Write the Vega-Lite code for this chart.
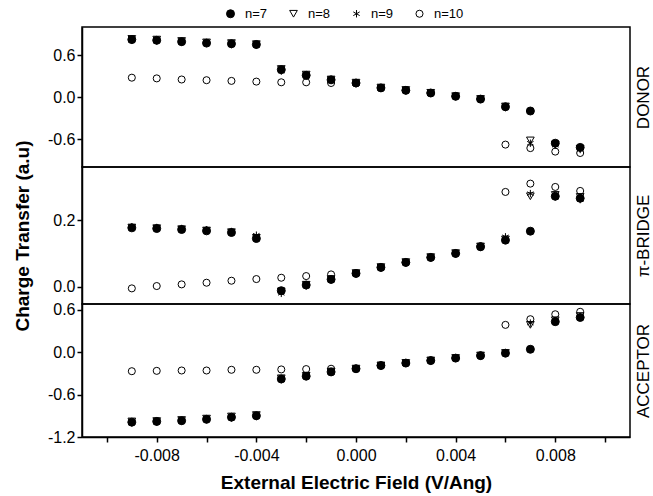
{
"$schema": "https://vega.github.io/schema/vega-lite/v6.json",
"padding": {"left": 13, "top": 7, "right": 0, "bottom": 0},
"bounds": "flush",
"spacing": 0,
"datasets": {"ct": [
{"p":"D","n":"n=7","x":-0.009,"v":0.82},{"p":"D","n":"n=7","x":-0.008,"v":0.81},{"p":"D","n":"n=7","x":-0.007,"v":0.79},{"p":"D","n":"n=7","x":-0.006,"v":0.77},{"p":"D","n":"n=7","x":-0.005,"v":0.76},{"p":"D","n":"n=7","x":-0.004,"v":0.75},{"p":"D","n":"n=7","x":-0.003,"v":0.39},{"p":"D","n":"n=7","x":-0.002,"v":0.31},{"p":"D","n":"n=7","x":-0.001,"v":0.245},{"p":"D","n":"n=7","x":0,"v":0.2},{"p":"D","n":"n=7","x":0.001,"v":0.13},{"p":"D","n":"n=7","x":0.002,"v":0.095},{"p":"D","n":"n=7","x":0.003,"v":0.057},{"p":"D","n":"n=7","x":0.004,"v":0.01},{"p":"D","n":"n=7","x":0.005,"v":-0.03},{"p":"D","n":"n=7","x":0.006,"v":-0.14},{"p":"D","n":"n=7","x":0.007,"v":-0.2},{"p":"D","n":"n=7","x":0.008,"v":-0.66},{"p":"D","n":"n=7","x":0.009,"v":-0.72},
{"p":"D","n":"n=8","x":-0.009,"v":0.83},{"p":"D","n":"n=8","x":-0.008,"v":0.82},{"p":"D","n":"n=8","x":-0.007,"v":0.8},{"p":"D","n":"n=8","x":-0.006,"v":0.78},{"p":"D","n":"n=8","x":-0.005,"v":0.77},{"p":"D","n":"n=8","x":-0.004,"v":0.755},{"p":"D","n":"n=8","x":-0.003,"v":0.4},{"p":"D","n":"n=8","x":-0.002,"v":0.32},{"p":"D","n":"n=8","x":-0.001,"v":0.25},{"p":"D","n":"n=8","x":0,"v":0.205},{"p":"D","n":"n=8","x":0.001,"v":0.135},{"p":"D","n":"n=8","x":0.002,"v":0.1},{"p":"D","n":"n=8","x":0.003,"v":0.06},{"p":"D","n":"n=8","x":0.004,"v":0.012},{"p":"D","n":"n=8","x":0.005,"v":-0.028},{"p":"D","n":"n=8","x":0.006,"v":-0.135},{"p":"D","n":"n=8","x":0.007,"v":-0.62},{"p":"D","n":"n=8","x":0.008,"v":-0.68},{"p":"D","n":"n=8","x":0.009,"v":-0.74},
{"p":"D","n":"n=9","x":-0.009,"v":0.81},{"p":"D","n":"n=9","x":-0.008,"v":0.8},{"p":"D","n":"n=9","x":-0.007,"v":0.785},{"p":"D","n":"n=9","x":-0.006,"v":0.765},{"p":"D","n":"n=9","x":-0.005,"v":0.75},{"p":"D","n":"n=9","x":-0.004,"v":0.74},{"p":"D","n":"n=9","x":-0.003,"v":0.37},{"p":"D","n":"n=9","x":-0.002,"v":0.3},{"p":"D","n":"n=9","x":-0.001,"v":0.24},{"p":"D","n":"n=9","x":0,"v":0.195},{"p":"D","n":"n=9","x":0.001,"v":0.128},{"p":"D","n":"n=9","x":0.002,"v":0.092},{"p":"D","n":"n=9","x":0.003,"v":0.055},{"p":"D","n":"n=9","x":0.004,"v":0.008},{"p":"D","n":"n=9","x":0.005,"v":-0.032},{"p":"D","n":"n=9","x":0.006,"v":-0.15},{"p":"D","n":"n=9","x":0.007,"v":-0.66},{"p":"D","n":"n=9","x":0.008,"v":-0.69},{"p":"D","n":"n=9","x":0.009,"v":-0.75},
{"p":"D","n":"n=10","x":-0.009,"v":0.276},{"p":"D","n":"n=10","x":-0.008,"v":0.266},{"p":"D","n":"n=10","x":-0.007,"v":0.25},{"p":"D","n":"n=10","x":-0.006,"v":0.24},{"p":"D","n":"n=10","x":-0.005,"v":0.23},{"p":"D","n":"n=10","x":-0.004,"v":0.22},{"p":"D","n":"n=10","x":-0.003,"v":0.21},{"p":"D","n":"n=10","x":-0.002,"v":0.21},{"p":"D","n":"n=10","x":-0.001,"v":0.2},{"p":"D","n":"n=10","x":0,"v":0.195},{"p":"D","n":"n=10","x":0.001,"v":0.13},{"p":"D","n":"n=10","x":0.002,"v":0.095},{"p":"D","n":"n=10","x":0.003,"v":0.057},{"p":"D","n":"n=10","x":0.004,"v":0.01},{"p":"D","n":"n=10","x":0.005,"v":-0.03},{"p":"D","n":"n=10","x":0.006,"v":-0.68},{"p":"D","n":"n=10","x":0.007,"v":-0.73},{"p":"D","n":"n=10","x":0.008,"v":-0.78},{"p":"D","n":"n=10","x":0.009,"v":-0.8},
{"p":"B","n":"n=7","x":-0.009,"v":0.177},{"p":"B","n":"n=7","x":-0.008,"v":0.175},{"p":"B","n":"n=7","x":-0.007,"v":0.172},{"p":"B","n":"n=7","x":-0.006,"v":0.168},{"p":"B","n":"n=7","x":-0.005,"v":0.163},{"p":"B","n":"n=7","x":-0.004,"v":0.145},{"p":"B","n":"n=7","x":-0.003,"v":-0.012},{"p":"B","n":"n=7","x":-0.002,"v":0.005},{"p":"B","n":"n=7","x":-0.001,"v":0.022},{"p":"B","n":"n=7","x":0,"v":0.04},{"p":"B","n":"n=7","x":0.001,"v":0.058},{"p":"B","n":"n=7","x":0.002,"v":0.073},{"p":"B","n":"n=7","x":0.003,"v":0.088},{"p":"B","n":"n=7","x":0.004,"v":0.1},{"p":"B","n":"n=7","x":0.005,"v":0.12},{"p":"B","n":"n=7","x":0.006,"v":0.14},{"p":"B","n":"n=7","x":0.007,"v":0.167},{"p":"B","n":"n=7","x":0.008,"v":0.272},{"p":"B","n":"n=7","x":0.009,"v":0.266},
{"p":"B","n":"n=8","x":-0.009,"v":0.178},{"p":"B","n":"n=8","x":-0.008,"v":0.176},{"p":"B","n":"n=8","x":-0.007,"v":0.173},{"p":"B","n":"n=8","x":-0.006,"v":0.169},{"p":"B","n":"n=8","x":-0.005,"v":0.164},{"p":"B","n":"n=8","x":-0.004,"v":0.147},{"p":"B","n":"n=8","x":-0.003,"v":-0.014},{"p":"B","n":"n=8","x":-0.002,"v":0.006},{"p":"B","n":"n=8","x":-0.001,"v":0.023},{"p":"B","n":"n=8","x":0,"v":0.041},{"p":"B","n":"n=8","x":0.001,"v":0.059},{"p":"B","n":"n=8","x":0.002,"v":0.074},{"p":"B","n":"n=8","x":0.003,"v":0.089},{"p":"B","n":"n=8","x":0.004,"v":0.101},{"p":"B","n":"n=8","x":0.005,"v":0.121},{"p":"B","n":"n=8","x":0.006,"v":0.142},{"p":"B","n":"n=8","x":0.007,"v":0.272},{"p":"B","n":"n=8","x":0.008,"v":0.276},{"p":"B","n":"n=8","x":0.009,"v":0.27},
{"p":"B","n":"n=9","x":-0.009,"v":0.18},{"p":"B","n":"n=9","x":-0.008,"v":0.178},{"p":"B","n":"n=9","x":-0.007,"v":0.175},{"p":"B","n":"n=9","x":-0.006,"v":0.171},{"p":"B","n":"n=9","x":-0.005,"v":0.166},{"p":"B","n":"n=9","x":-0.004,"v":0.155},{"p":"B","n":"n=9","x":-0.003,"v":-0.02},{"p":"B","n":"n=9","x":-0.002,"v":0.002},{"p":"B","n":"n=9","x":-0.001,"v":0.02},{"p":"B","n":"n=9","x":0,"v":0.039},{"p":"B","n":"n=9","x":0.001,"v":0.057},{"p":"B","n":"n=9","x":0.002,"v":0.072},{"p":"B","n":"n=9","x":0.003,"v":0.087},{"p":"B","n":"n=9","x":0.004,"v":0.099},{"p":"B","n":"n=9","x":0.005,"v":0.119},{"p":"B","n":"n=9","x":0.006,"v":0.15},{"p":"B","n":"n=9","x":0.007,"v":0.28},{"p":"B","n":"n=9","x":0.008,"v":0.27},{"p":"B","n":"n=9","x":0.009,"v":0.262},
{"p":"B","n":"n=10","x":-0.009,"v":-0.005},{"p":"B","n":"n=10","x":-0.008,"v":0.002},{"p":"B","n":"n=10","x":-0.007,"v":0.007},{"p":"B","n":"n=10","x":-0.006,"v":0.012},{"p":"B","n":"n=10","x":-0.005,"v":0.018},{"p":"B","n":"n=10","x":-0.004,"v":0.023},{"p":"B","n":"n=10","x":-0.003,"v":0.027},{"p":"B","n":"n=10","x":-0.002,"v":0.032},{"p":"B","n":"n=10","x":-0.001,"v":0.037},{"p":"B","n":"n=10","x":0,"v":0.04},{"p":"B","n":"n=10","x":0.001,"v":0.058},{"p":"B","n":"n=10","x":0.002,"v":0.073},{"p":"B","n":"n=10","x":0.003,"v":0.088},{"p":"B","n":"n=10","x":0.004,"v":0.1},{"p":"B","n":"n=10","x":0.005,"v":0.122},{"p":"B","n":"n=10","x":0.006,"v":0.285},{"p":"B","n":"n=10","x":0.007,"v":0.31},{"p":"B","n":"n=10","x":0.008,"v":0.3},{"p":"B","n":"n=10","x":0.009,"v":0.288},
{"p":"A","n":"n=7","x":-0.009,"v":-0.99},{"p":"A","n":"n=7","x":-0.008,"v":-0.98},{"p":"A","n":"n=7","x":-0.007,"v":-0.97},{"p":"A","n":"n=7","x":-0.006,"v":-0.95},{"p":"A","n":"n=7","x":-0.005,"v":-0.92},{"p":"A","n":"n=7","x":-0.004,"v":-0.9},{"p":"A","n":"n=7","x":-0.003,"v":-0.38},{"p":"A","n":"n=7","x":-0.002,"v":-0.34},{"p":"A","n":"n=7","x":-0.001,"v":-0.28},{"p":"A","n":"n=7","x":0,"v":-0.235},{"p":"A","n":"n=7","x":0.001,"v":-0.19},{"p":"A","n":"n=7","x":0.002,"v":-0.155},{"p":"A","n":"n=7","x":0.003,"v":-0.12},{"p":"A","n":"n=7","x":0.004,"v":-0.085},{"p":"A","n":"n=7","x":0.005,"v":-0.05},{"p":"A","n":"n=7","x":0.006,"v":-0.015},{"p":"A","n":"n=7","x":0.007,"v":0.04},{"p":"A","n":"n=7","x":0.008,"v":0.43},{"p":"A","n":"n=7","x":0.009,"v":0.49},
{"p":"A","n":"n=8","x":-0.009,"v":-0.98},{"p":"A","n":"n=8","x":-0.008,"v":-0.975},{"p":"A","n":"n=8","x":-0.007,"v":-0.96},{"p":"A","n":"n=8","x":-0.006,"v":-0.94},{"p":"A","n":"n=8","x":-0.005,"v":-0.91},{"p":"A","n":"n=8","x":-0.004,"v":-0.89},{"p":"A","n":"n=8","x":-0.003,"v":-0.37},{"p":"A","n":"n=8","x":-0.002,"v":-0.335},{"p":"A","n":"n=8","x":-0.001,"v":-0.275},{"p":"A","n":"n=8","x":0,"v":-0.233},{"p":"A","n":"n=8","x":0.001,"v":-0.188},{"p":"A","n":"n=8","x":0.002,"v":-0.153},{"p":"A","n":"n=8","x":0.003,"v":-0.118},{"p":"A","n":"n=8","x":0.004,"v":-0.083},{"p":"A","n":"n=8","x":0.005,"v":-0.048},{"p":"A","n":"n=8","x":0.006,"v":-0.012},{"p":"A","n":"n=8","x":0.007,"v":0.385},{"p":"A","n":"n=8","x":0.008,"v":0.45},{"p":"A","n":"n=8","x":0.009,"v":0.51},
{"p":"A","n":"n=9","x":-0.009,"v":-1.0},{"p":"A","n":"n=9","x":-0.008,"v":-0.99},{"p":"A","n":"n=9","x":-0.007,"v":-0.975},{"p":"A","n":"n=9","x":-0.006,"v":-0.955},{"p":"A","n":"n=9","x":-0.005,"v":-0.93},{"p":"A","n":"n=9","x":-0.004,"v":-0.91},{"p":"A","n":"n=9","x":-0.003,"v":-0.39},{"p":"A","n":"n=9","x":-0.002,"v":-0.345},{"p":"A","n":"n=9","x":-0.001,"v":-0.285},{"p":"A","n":"n=9","x":0,"v":-0.237},{"p":"A","n":"n=9","x":0.001,"v":-0.192},{"p":"A","n":"n=9","x":0.002,"v":-0.157},{"p":"A","n":"n=9","x":0.003,"v":-0.122},{"p":"A","n":"n=9","x":0.004,"v":-0.087},{"p":"A","n":"n=9","x":0.005,"v":-0.052},{"p":"A","n":"n=9","x":0.006,"v":-0.018},{"p":"A","n":"n=9","x":0.007,"v":0.41},{"p":"A","n":"n=9","x":0.008,"v":0.44},{"p":"A","n":"n=9","x":0.009,"v":0.5},
{"p":"A","n":"n=10","x":-0.009,"v":-0.27},{"p":"A","n":"n=10","x":-0.008,"v":-0.265},{"p":"A","n":"n=10","x":-0.007,"v":-0.26},{"p":"A","n":"n=10","x":-0.006,"v":-0.26},{"p":"A","n":"n=10","x":-0.005,"v":-0.25},{"p":"A","n":"n=10","x":-0.004,"v":-0.25},{"p":"A","n":"n=10","x":-0.003,"v":-0.245},{"p":"A","n":"n=10","x":-0.002,"v":-0.24},{"p":"A","n":"n=10","x":-0.001,"v":-0.235},{"p":"A","n":"n=10","x":0,"v":-0.235},{"p":"A","n":"n=10","x":0.001,"v":-0.19},{"p":"A","n":"n=10","x":0.002,"v":-0.155},{"p":"A","n":"n=10","x":0.003,"v":-0.12},{"p":"A","n":"n=10","x":0.004,"v":-0.085},{"p":"A","n":"n=10","x":0.005,"v":-0.048},{"p":"A","n":"n=10","x":0.006,"v":0.385},{"p":"A","n":"n=10","x":0.007,"v":0.465},{"p":"A","n":"n=10","x":0.008,"v":0.535},{"p":"A","n":"n=10","x":0.009,"v":0.57}
]},
"data": {"name": "ct"},
"config": {
  "font": "Liberation Sans",
  "view": {"stroke": "black", "strokeWidth": 1.5},
  "axis": {"grid": false, "domainColor": "black", "domainWidth": 1.5, "tickColor": "black", "tickWidth": 1.5, "tickSize": 5, "labelColor": "black", "labelFontSize": 16, "labelFont": "Liberation Sans", "titleColor": "black", "titleFont": "Liberation Sans"},
  "legend": {"labelFont": "Liberation Sans", "labelFontSize": 13, "labelColor": "black"},
  "locale": {"number": {"decimal": ".", "thousands": ",", "grouping": [3], "currency": ["$", ""], "minus": "-"}}
},
"vconcat": [
 {
  "width": 548, "height": 140,
  "transform": [{"filter": "datum.p == 'D'"}],
  "encoding": {"x": {"field": "x", "type": "quantitative", "scale": {"domain": [-0.011, 0.011], "nice": false, "zero": false}, "axis": null}},
  "layer": [
   {"mark": {"type": "point", "filled": true, "stroke": "black", "strokeWidth": 1, "strokeOpacity": 1, "opacity": 1},
    "encoding": {
     "y": {"field": "v", "type": "quantitative", "scale": {"domain": [-1.0, 1.0], "nice": false, "zero": false}, "axis": {"values": [-0.6, 0, 0.6], "format": ".1f", "title": null, "labelPadding": 2}},
     "shape": {"field": "n", "type": "nominal", "scale": {"domain": ["n=7", "n=8", "n=9", "n=10"], "range": ["circle", "triangle-down", "M0,-1L0,1M-0.866,-0.5L0.866,0.5M-0.866,0.5L0.866,-0.5", "circle"]}, "legend": {"title": null, "orient": "none", "direction": "horizontal", "legendX": 142, "legendY": -20, "padding": 0, "labelOffset": 8, "columnPadding": 19, "symbolStrokeColor": "black", "symbolStrokeWidth": 1}},
     "fill": {"field": "n", "type": "nominal", "scale": {"domain": ["n=7", "n=8", "n=9", "n=10"], "range": ["black", "transparent", "transparent", "transparent"]}},
     "size": {"field": "n", "type": "nominal", "scale": {"domain": ["n=7", "n=8", "n=9", "n=10"], "range": [64, 50, 80, 64]}}
    }},
   {"mark": {"type": "point", "opacity": 0},
    "encoding": {"y": {"field": "v", "type": "quantitative", "axis": {"orient": "right", "title": "DONOR", "labels": false, "ticks": false, "domain": false, "titleAngle": 270, "titleBaseline": "top", "titlePadding": 5, "titleFontSize": 17, "titleFontWeight": "normal"}}}}
  ],
  "resolve": {"axis": {"y": "independent"}}
 },
 {
  "width": 548, "height": 137,
  "transform": [{"filter": "datum.p == 'B'"}],
  "encoding": {"x": {"field": "x", "type": "quantitative", "scale": {"domain": [-0.011, 0.011], "nice": false, "zero": false}, "axis": null}},
  "layer": [
   {"mark": {"type": "point", "filled": true, "stroke": "black", "strokeWidth": 1, "strokeOpacity": 1, "opacity": 1},
    "encoding": {
     "y": {"field": "v", "type": "quantitative", "scale": {"domain": [-0.052, 0.36], "nice": false, "zero": false}, "axis": {"values": [0, 0.2], "format": ".1f", "title": "Charge Transfer (a.u)", "titleFontSize": 19, "titleFontWeight": "bold", "titlePadding": 20, "labelPadding": 2}},
     "shape": {"field": "n", "type": "nominal", "scale": {"domain": ["n=7", "n=8", "n=9", "n=10"], "range": ["circle", "triangle-down", "M0,-1L0,1M-0.866,-0.5L0.866,0.5M-0.866,0.5L0.866,-0.5", "circle"]}},
     "fill": {"field": "n", "type": "nominal", "scale": {"domain": ["n=7", "n=8", "n=9", "n=10"], "range": ["black", "transparent", "transparent", "transparent"]}},
     "size": {"field": "n", "type": "nominal", "scale": {"domain": ["n=7", "n=8", "n=9", "n=10"], "range": [64, 50, 80, 64]}}
    }},
   {"mark": {"type": "point", "opacity": 0},
    "encoding": {"y": {"field": "v", "type": "quantitative", "axis": {"orient": "right", "title": "π-BRIDGE", "labels": false, "ticks": false, "domain": false, "titleAngle": 270, "titleBaseline": "top", "titlePadding": 5, "titleFontSize": 17, "titleFontWeight": "normal"}}}}
  ],
  "resolve": {"axis": {"y": "independent"}}
 },
 {
  "width": 548, "height": 133,
  "transform": [{"filter": "datum.p == 'A'"}],
  "encoding": {"x": {"field": "x", "type": "quantitative", "scale": {"domain": [-0.011, 0.011], "nice": false, "zero": false}, "axis": {"values": [-0.01, -0.008, -0.006, -0.004, -0.002, 0, 0.002, 0.004, 0.006, 0.008, 0.01], "labelExpr": "round(datum.value * 1000) % 4 == 0 ? format(datum.value, '.3f') : ''", "title": "External Electric Field (V/Ang)", "titleFontSize": 19, "titleFontWeight": "bold", "labelPadding": 5, "titlePadding": 10, "labelFlush": false, "labelOverlap": false}}},
  "layer": [
   {"mark": {"type": "point", "filled": true, "stroke": "black", "strokeWidth": 1, "strokeOpacity": 1, "opacity": 1},
    "encoding": {
     "y": {"field": "v", "type": "quantitative", "scale": {"domain": [-1.2, 0.68], "nice": false, "zero": false}, "axis": {"values": [-1.2, -0.6, 0, 0.6], "format": ".1f", "title": null, "labelPadding": 2}},
     "shape": {"field": "n", "type": "nominal", "scale": {"domain": ["n=7", "n=8", "n=9", "n=10"], "range": ["circle", "triangle-down", "M0,-1L0,1M-0.866,-0.5L0.866,0.5M-0.866,0.5L0.866,-0.5", "circle"]}},
     "fill": {"field": "n", "type": "nominal", "scale": {"domain": ["n=7", "n=8", "n=9", "n=10"], "range": ["black", "transparent", "transparent", "transparent"]}},
     "size": {"field": "n", "type": "nominal", "scale": {"domain": ["n=7", "n=8", "n=9", "n=10"], "range": [64, 50, 80, 64]}}
    }},
   {"mark": {"type": "point", "opacity": 0},
    "encoding": {"y": {"field": "v", "type": "quantitative", "axis": {"orient": "right", "title": "ACCEPTOR", "labels": false, "ticks": false, "domain": false, "titleAngle": 270, "titleBaseline": "top", "titlePadding": 5, "titleFontSize": 17, "titleFontWeight": "normal"}}}}
  ],
  "resolve": {"axis": {"y": "independent"}}
 }
]
}
